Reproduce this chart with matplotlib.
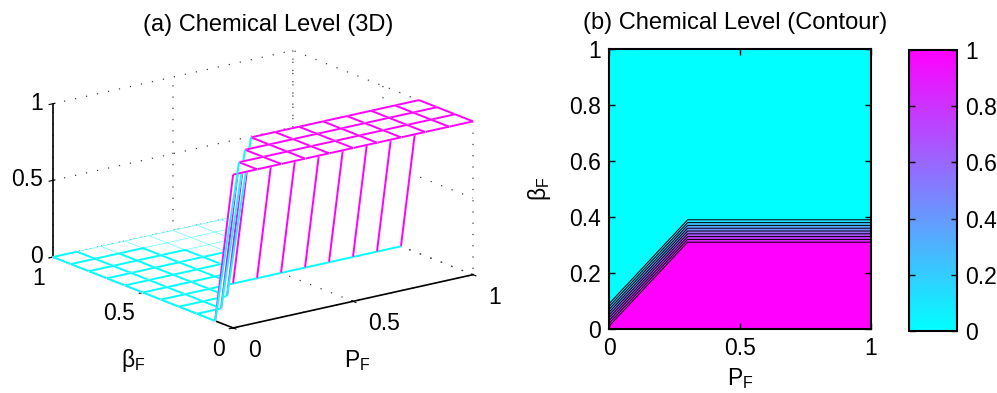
import numpy as np
import matplotlib
matplotlib.use("Agg")
import matplotlib.pyplot as plt
from matplotlib import colors as mcolors
from matplotlib.cm import ScalarMappable
from mpl_toolkits.mplot3d import proj3d
from mpl_toolkits.mplot3d.art3d import Poly3DCollection

plt.rcParams.update({
    "font.family": ["Liberation Sans", "DejaVu Sans"],
    "font.size": 16.5,
    "mathtext.fontset": "custom",
    "mathtext.rm": "Liberation Sans",
    "mathtext.it": "Liberation Sans",
    "mathtext.bf": "Liberation Sans:bold",
    "axes.linewidth": 1.0,
})

# ---------------------------------------------------------------- data
p_f = [0.0, 0.1, 0.2, 0.3, 0.4, 0.5, 0.6, 0.7, 0.8, 0.9, 1.0]
beta_f = [0.0, 0.1, 0.2, 0.3, 0.4, 0.5, 0.6, 0.7, 0.8, 0.9, 1.0]

# chemical level, rows follow beta_F, columns follow P_F
chem_level = [
    [1, 1, 1, 1, 1, 1, 1, 1, 1, 1, 1],
    [0, 1, 1, 1, 1, 1, 1, 1, 1, 1, 1],
    [0, 0, 1, 1, 1, 1, 1, 1, 1, 1, 1],
    [0, 0, 0, 1, 1, 1, 1, 1, 1, 1, 1],
    [0, 0, 0, 0, 0, 0, 0, 0, 0, 0, 0],
    [0, 0, 0, 0, 0, 0, 0, 0, 0, 0, 0],
    [0, 0, 0, 0, 0, 0, 0, 0, 0, 0, 0],
    [0, 0, 0, 0, 0, 0, 0, 0, 0, 0, 0],
    [0, 0, 0, 0, 0, 0, 0, 0, 0, 0, 0],
    [0, 0, 0, 0, 0, 0, 0, 0, 0, 0, 0],
    [0, 0, 0, 0, 0, 0, 0, 0, 0, 0, 0],
]

p_ticks = [0, 0.5, 1]
p_ticklabels = ["0", "0.5", "1"]
beta_ticks3d = [0, 0.5, 1]
beta_ticklabels3d = ["0", "0.5", "1"]
z_ticks = [0, 0.5, 1]
z_ticklabels = ["0", "0.5", "1"]
beta_ticks = [0, 0.2, 0.4, 0.6, 0.8, 1]
beta_ticklabels = ["0", "0.2", "0.4", "0.6", "0.8", "1"]
cbar_ticks = [0, 0.2, 0.4, 0.6, 0.8, 1]
cbar_ticklabels = ["0", "0.2", "0.4", "0.6", "0.8", "1"]
contour_levels = [0.0, 0.1, 0.2, 0.3, 0.4, 0.5, 0.6, 0.7, 0.8, 0.9, 1.0]

W, H = 997, 393
FS = 16.5
fig = plt.figure(figsize=(W / 100, H / 100), dpi=100)
cmap = plt.get_cmap("cool")
label_p = r"$\mathrm{P}_\mathrm{F}$"
label_beta = r"$\beta_\mathrm{F}$"

P, B = np.meshgrid(p_f, beta_f)
Z = np.array(chem_level, dtype=float)
nb, npf = Z.shape

# ------------------------------------------------------------ 3-D mesh
ax3 = fig.add_axes([0, 0, 0.3, 0.3], projection="3d")
ax3.set_proj_type("ortho")
ax3.view_init(elev=17.2, azim=-126.9)
ax3.set_box_aspect((1, 1, 0.535))
ax3.set_xlim(0, 1)
ax3.set_ylim(0, 1)
ax3.set_zlim(0, 1)

# white quads hide what lies behind; coloured edges follow the value at
# the first vertex of each edge (flat edge colouring)
faces, face_id = [], {}
for i in range(nb - 1):
    for j in range(npf - 1):
        face_id[(i, j)] = len(faces)
        faces.append([(P[i, j], B[i, j], Z[i, j]),
                      (P[i, j + 1], B[i, j + 1], Z[i, j + 1]),
                      (P[i + 1, j + 1], B[i + 1, j + 1], Z[i + 1, j + 1]),
                      (P[i + 1, j], B[i + 1, j], Z[i + 1, j])])
n_faces = len(faces)

segs, seg_cols, seg_adj = [], [], []
for i in range(nb):
    for j in range(npf):
        for di, dj in ((0, 1), (1, 0)):
            i2, j2 = i + di, j + dj
            if i2 >= nb or j2 >= npf:
                continue
            a = (P[i, j], B[i, j], Z[i, j])
            b = (P[i2, j2], B[i2, j2], Z[i2, j2])
            segs.append([a, b, b, a])
            seg_cols.append(cmap(Z[i, j]))
            if dj == 1:
                adj = [face_id.get((i - 1, j)), face_id.get((i, j))]
            else:
                adj = [face_id.get((i, j - 1)), face_id.get((i, j))]
            seg_adj.append([k for k in adj if k is not None])
n_total = n_faces + len(segs)

mesh = Poly3DCollection(
    faces + segs,
    facecolors=[(1, 1, 1, 1)] * n_faces + [(0, 0, 0, 0)] * len(segs),
    edgecolors=[(1, 1, 1, 1)] * n_faces + seg_cols,
    linewidths=[0.3] * n_faces + [1.4] * len(segs),
)

# each edge is painted straight after the nearer of the quads it borders
_sort_state = {"n": 0, "keys": np.zeros(n_faces)}


def _depth_order(zs):
    idx = _sort_state["n"] % n_total
    _sort_state["n"] += 1
    if idx < n_faces:
        key = float(np.mean(zs))
        _sort_state["keys"][idx] = key
        return key
    return float(_sort_state["keys"][seg_adj[idx - n_faces]].min()) - 1e-9


mesh._zsortfunc = _depth_order
ax3.add_collection3d(mesh)

ax3.set_xticks(p_ticks)
ax3.set_yticks(beta_ticks3d)
ax3.set_zticks(z_ticks)
for axis in (ax3.xaxis, ax3.yaxis, ax3.zaxis):
    axis.set_pane_color((1, 1, 1, 0))
    axis.pane.set_edgecolor((1, 1, 1, 0))
    axis.line.set_color("black")
    axis.line.set_linewidth(1.2)
    axis._axinfo["grid"].update(color="0.25", linewidth=0.9,
                                linestyle=(0, (1.0, 8.0)))
    axis.set_ticklabels([""] * 3)


def _place(side, cx, cy):
    ax3.set_position([(cx - side / 2) / W, (cy - side / 2) / H, side / W, side / H])


def _to_display(pts):
    pts = np.asarray(pts, dtype=float)
    x2, y2, _ = proj3d.proj_transform(pts[:, 0], pts[:, 1], pts[:, 2], ax3.M)
    return ax3.transData.transform(np.column_stack([x2, y2]))


# fit the projected box: left corner and right corner of the floor
left_target = np.array([53.0, H - 257.0])
right_target = np.array([473.0, H - 273.0])
side, cx, cy = 300.0, 265.0, 200.0
for _ in range(3):
    _place(side, cx, cy)
    fig.canvas.draw()
    d = _to_display([(0, 1, 0), (1, 0, 0)])
    k = (right_target[0] - left_target[0]) / (d[1, 0] - d[0, 0])
    centre = np.array([cx, cy])
    new_left = centre + k * (d[0] - centre)
    shift = left_target - new_left
    side *= k
    cx += shift[0]
    cy += shift[1]
_place(side, cx, cy)
fig.canvas.draw()

# tick labels of the 3-D view, set beside the projected tick positions
for v, txt in zip(z_ticks, z_ticklabels):
    x, y = _to_display([(0, 1, v)])[0]
    fig.text((x - 10) / W, (y - 6) / H, txt, ha="right", va="baseline",
             fontsize=FS)
for v, txt in zip(beta_ticks3d, beta_ticklabels3d):
    x, y = _to_display([(0, v, 0)])[0]
    fig.text((x - 8) / W, (y - 28) / H, txt, ha="right", va="baseline",
             fontsize=FS)
for v, txt in zip(p_ticks, p_ticklabels):
    x, y = _to_display([(v, 0, 0)])[0]
    fig.text((x + 15) / W, (y - 29) / H, txt, ha="left", va="baseline",
             fontsize=FS)

# axis names of the 3-D view sit below the floor edges, upright
fig.text(133 / W, 1 - 360 / H, label_beta, ha="center", va="center",
         fontsize=FS)
fig.text(357 / W, 1 - 361 / H, label_p, ha="center", va="center",
         fontsize=FS)

fig.text(268 / W, 1 - 31 / H, "(a) Chemical Level (3D)", ha="center",
         va="baseline", fontsize=17)

# ------------------------------------------------------------ contour
ax2 = fig.add_axes([609 / W, (H - 329) / H, 262 / W, 280 / H])
n_bands = len(contour_levels) - 1
band_cols = [cmap(v) for v in np.linspace(0, 1, n_bands)]
ax2.contourf(p_f, beta_f, Z, levels=contour_levels, colors=band_cols)
ax2.contour(p_f, beta_f, Z, levels=contour_levels[1:-1], colors="black",
            linewidths=0.7)
ax2.set_xlim(0, 1)
ax2.set_ylim(0, 1)
ax2.set_xticks(p_ticks)
ax2.set_xticklabels(p_ticklabels)
ax2.set_yticks(beta_ticks)
ax2.set_yticklabels(beta_ticklabels)
ax2.tick_params(direction="in", top=True, right=True, length=4, width=1,
                labelsize=FS, pad=6)
for sp in ax2.spines.values():
    sp.set_linewidth(1.5)
ax2.set_xlabel(label_p, fontsize=FS, va="bottom")
ax2.xaxis.set_label_coords(0.5, -0.221)
ax2.set_ylabel(label_beta, fontsize=FS)
ax2.yaxis.set_label_coords(-0.214, 0.5)
fig.text(735 / W, 1 - 29 / H, "(b) Chemical Level (Contour)", ha="center",
         va="baseline", fontsize=17)

# ------------------------------------------------------------ colorbar
cax = fig.add_axes([909 / W, (H - 331) / H, 48 / W, 281 / H])
sm = ScalarMappable(norm=mcolors.Normalize(0, 1), cmap=cmap)
cb = fig.colorbar(sm, cax=cax)
cb.set_ticks(cbar_ticks)
cb.set_ticklabels(cbar_ticklabels)
cb.outline.set_linewidth(1.5)
cax.tick_params(direction="in", left=True, right=True, length=4, width=1,
                labelsize=FS, pad=6)

fig.savefig("out.png", dpi=100)
